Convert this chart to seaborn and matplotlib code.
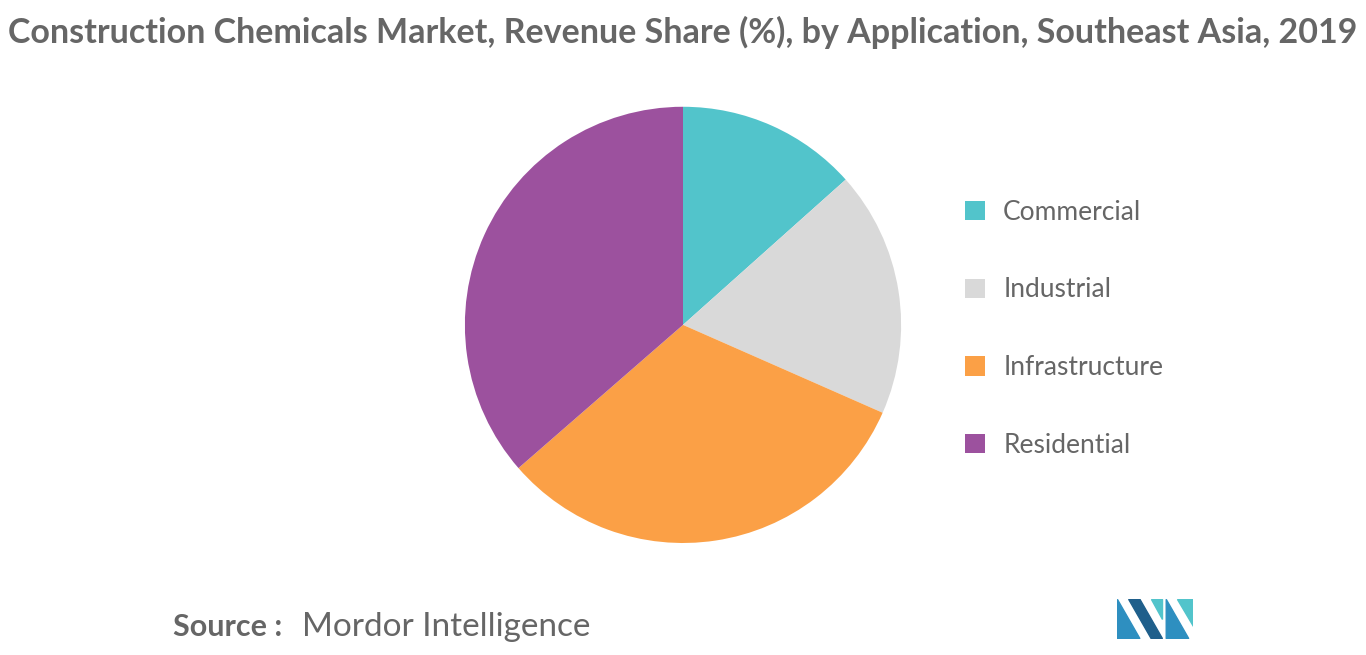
import matplotlib
matplotlib.use("Agg")
import matplotlib.pyplot as plt
import seaborn as sns
from matplotlib.patches import Polygon, Patch

sns.set_theme(style="white")
plt.rcParams['font.family'] = ['Lato', 'DejaVu Sans']

categories = ["Commercial", "Industrial", "Infrastructure", "Residential"]
values = [13.4, 18.2, 32.0, 36.4]
colors = ["#52c4cb", "#d9d9d9", "#fba046", "#9c519e"]

fig = plt.figure(figsize=(13.66, 6.55), dpi=100)
ax = fig.add_axes([0.5 - 0.2225, 0.504 - 0.333, 0.445, 0.666])
ax.pie(values, colors=colors, startangle=90, counterclock=False, wedgeprops=dict(linewidth=0))
ax.set_xlim(-1, 1); ax.set_ylim(-1, 1)
ax.set_aspect('equal')

fig.text(0.006, 0.95, "Construction Chemicals Market, Revenue Share (%), by Application, Southeast Asia, 2019",
         fontsize=24.5, fontweight='bold', color='#666666', va='center', ha='left')

handles = [Patch(facecolor=c, edgecolor='none') for c in colors]
fig.legend(handles, categories, loc='center left', bbox_to_anchor=(0.689, 0.498), frameon=False,
           fontsize=19, labelcolor='#666666', handlelength=0.75, handleheight=0.75,
           labelspacing=2.0, handletextpad=0.7)

fig.text(0.127, 0.042, "Source :", fontsize=22, fontweight='bold', color='#666666', va='center')
fig.text(0.221, 0.042, "Mordor Intelligence", fontsize=24, color='#666666', va='center')

# logo
lax = fig.add_axes([0.818, 0.025, 0.055, 0.06])
lax.set_xlim(0, 10); lax.set_ylim(0, 6); lax.axis('off')
lax.add_patch(Polygon([[0,0],[0,6],[3,0]], color='#2e8fc0'))
lax.add_patch(Polygon([[1.5,6],[3,6],[6,0],[4.5,0]], color='#1f5f8b'))
lax.add_patch(Polygon([[4.5,6],[6,6],[6,3]], color='#52c4cb'))
lax.add_patch(Polygon([[6.5,0],[6.5,6],[9.5,0]], color='#2e8fc0'))
lax.add_patch(Polygon([[8,6],[10,6],[10,2]], color='#52c4cb'))

fig.savefig("out.png", dpi=100)
